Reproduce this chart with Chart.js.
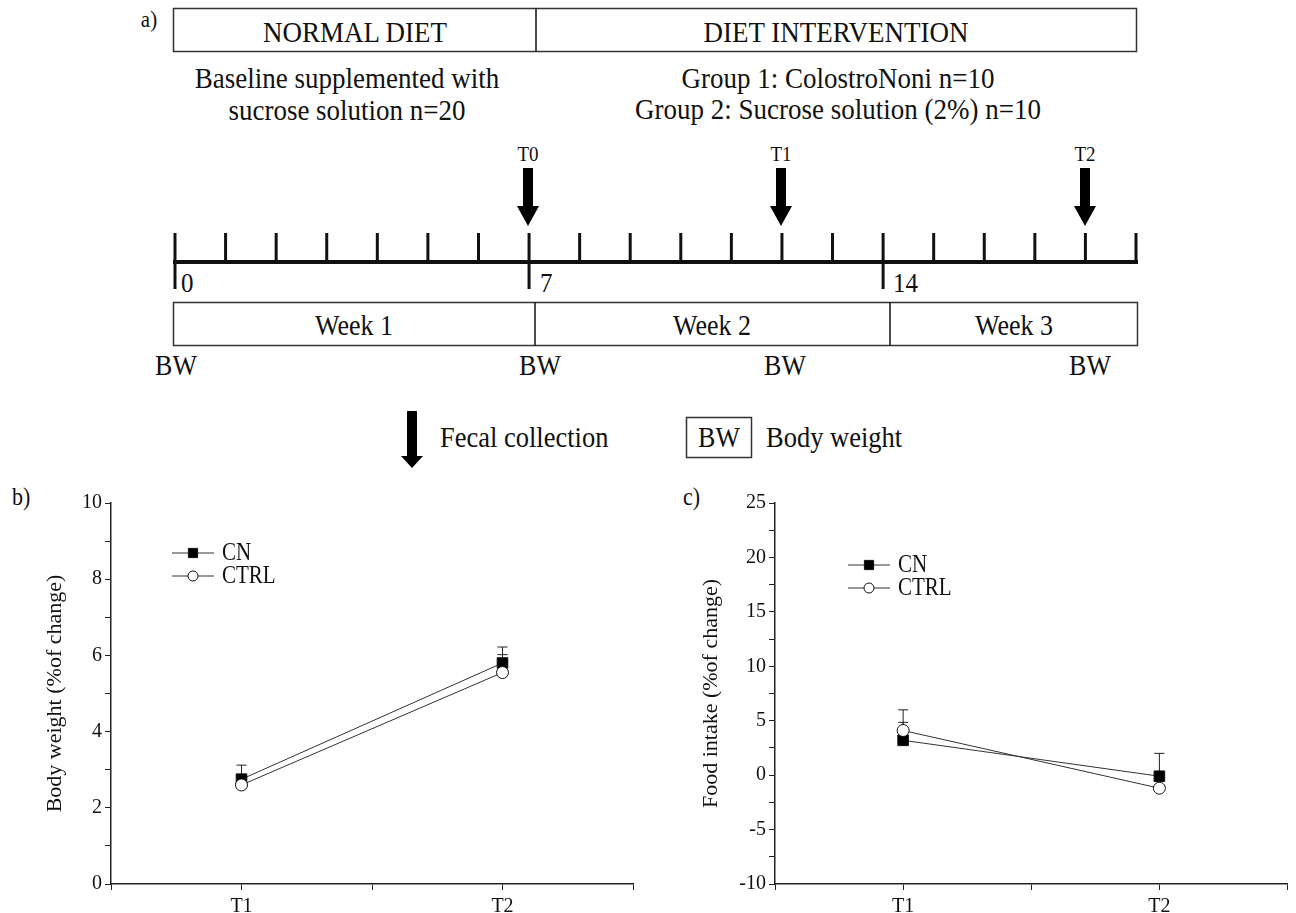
<!DOCTYPE html>
<html>
<head>
<meta charset="utf-8">
<script src="https://cdn.jsdelivr.net/npm/chart.js@4.4.0/dist/chart.umd.min.js"></script>
<style>
  html, body { margin: 0; padding: 0; background: #fff; }
  #page { position: relative; width: 1296px; height: 913px; overflow: hidden;
          font-family: 'Liberation Serif', serif; color: #111; }
  #scheme { position: absolute; left: 0; top: 0; }
  #scheme text { transform-box: fill-box; transform-origin: center; transform: scaleY(1.12); }
  .panel { position: absolute; top: 480px; height: 433px; }
  .tag { position: absolute; font-size: 22px; transform: scaleY(1.1); }
</style>
</head>
<body>
<div id="page">
  <svg id="scheme" width="1296" height="480" font-family="Liberation Serif, serif" fill="#111"></svg>
  <div class="tag" style="left:12px;top:484px">b)</div>
  <div class="tag" style="left:683px;top:484px">c)</div>
  <div class="panel" style="left:0;width:650px"><canvas id="bw" width="650" height="433"></canvas></div>
  <div class="panel" style="left:650px;width:646px"><canvas id="fi" width="646" height="433"></canvas></div>
</div>
<script>
// ---- data ----
const timeLabels = ['T1', 'T2'];
const seriesNames = ['CN', 'CTRL'];

const bodyWeightCN = [2.75, 5.8];
const bodyWeightCNErr = [0.37, 0.42];
const bodyWeightCTRL = [2.6, 5.55];
const bodyWeightCTRLErr = [0.28, 0.47];

const foodIntakeCN = [3.2, -0.1];
const foodIntakeCNErr = [1.65, 2.1];
const foodIntakeCTRL = [4.1, -1.2];
const foodIntakeCTRLErr = [1.9, 0.9];

const bodyWeightTicks = [0, 2, 4, 6, 8, 10];
const foodIntakeTicks = [-10, -5, 0, 5, 10, 15, 20, 25];

const SERIF = 'Liberation Serif';

// ---- panel a: study scheme ----
(function () {
    const svg = document.getElementById('scheme');
    let s = '';
    const txt = (x, y, size, str, anchor) =>
        `<text x="${x}" y="${y}" font-size="${size}" text-anchor="${anchor || 'middle'}" dominant-baseline="central">${str}</text>`;
    const line = (x1, y1, x2, y2, w) =>
        `<line x1="${x1}" y1="${y1}" x2="${x2}" y2="${y2}" stroke="#111" stroke-width="${w}"/>`;
    const arrow = (x, y0, y1, y2) =>
        `<rect x="${x - 5}" y="${y0}" width="10" height="${y1 - y0}" fill="#000"/>` +
        `<polygon points="${x - 11},${y1} ${x + 11},${y1} ${x},${y2}" fill="#000"/>`;

    s += txt(149, 19, 21, 'a)');
    // header box
    s += `<rect x="173.5" y="8.5" width="963" height="43" fill="none" stroke="#333" stroke-width="1.5"/>`;
    s += line(536, 8.5, 536, 51.5, 1.5);
    s += txt(355, 31, 27, 'NORMAL DIET');
    s += txt(836, 31, 27, 'DIET INTERVENTION');
    s += txt(347, 77, 27, 'Baseline supplemented with');
    s += txt(347, 109, 27, 'sucrose solution n=20');
    s += txt(838, 77, 27, 'Group 1: ColostroNoni n=10');
    s += txt(838, 109, 27, 'Group 2: Sucrose solution (2%) n=10');

    // sampling arrows
    const tp = [['T0', 528], ['T1', 781], ['T2', 1085]];
    tp.forEach(([t, x]) => {
        s += txt(x, 154, 19, t);
        s += arrow(x, 168, 206, 226);
    });

    // day axis
    const x0 = 175, dx = (1136 - 175) / 19;
    s += line(173, 262, 1138, 262, 4);
    for (let d = 0; d <= 19; d++) {
        const x = x0 + d * dx;
        const long = d % 7 === 0;
        s += line(x, 233, x, long ? 289 : 262, 3);
    }
    s += txt(181, 283, 25, '0', 'start');
    s += txt(540, 283, 25, '7', 'start');
    s += txt(893, 283, 25, '14', 'start');

    // weeks box
    s += `<rect x="173.5" y="302.5" width="964" height="43" fill="none" stroke="#333" stroke-width="1.5"/>`;
    s += line(535, 302.5, 535, 345.5, 1.5);
    s += line(890, 302.5, 890, 345.5, 1.5);
    s += txt(354, 325, 26, 'Week 1');
    s += txt(712, 325, 26, 'Week 2');
    s += txt(1014, 325, 26, 'Week 3');
    [176, 540, 785, 1090].forEach(x => { s += txt(x, 365, 26, 'BW'); });

    // key
    s += arrow(412, 411, 456, 468);
    s += txt(440, 437, 26.5, 'Fecal collection', 'start');
    s += `<rect x="686.5" y="417.5" width="65" height="40" fill="none" stroke="#333" stroke-width="1.5"/>`;
    s += txt(719, 437, 26, 'BW');
    s += txt(766, 437, 26.5, 'Body weight', 'start');

    svg.innerHTML = s;
})();

// ---- panels b and c ----
Chart.defaults.font.family = SERIF;
Chart.defaults.color = '#111';

const errorBars = {
    id: 'errorBars',
    beforeDatasetsDraw(chart) {
        const ctx = chart.ctx;
        const xs = chart.scales.x, ys = chart.scales.y;
        chart.data.datasets.forEach(ds => {
            ctx.save();
            ctx.strokeStyle = '#222';
            ctx.lineWidth = 1;
            ds.data.forEach((pt, i) => {
                const x = xs.getPixelForValue(pt.x);
                const y0 = ys.getPixelForValue(pt.y);
                const y1 = ys.getPixelForValue(pt.y + ds.errors[i]);
                ctx.beginPath();
                ctx.moveTo(x, y0);
                ctx.lineTo(x, y1);
                ctx.moveTo(x - 5, y1);
                ctx.lineTo(x + 5, y1);
                ctx.stroke();
            });
            ctx.restore();
        });
    }
};

function drawMarker(ctx, ds, x, y, r) {
    ctx.save();
    ctx.fillStyle = ds.pointBackgroundColor;
    ctx.strokeStyle = ds.pointBorderColor;
    ctx.lineWidth = ds.pointBorderWidth;
    ctx.beginPath();
    if (ds.pointStyle === 'rect') {
        const h = r * Math.SQRT1_2;
        ctx.rect(x - h, y - h, 2 * h, 2 * h);
    } else {
        ctx.arc(x, y, r, 0, Math.PI * 2);
    }
    ctx.fill();
    ctx.stroke();
    ctx.restore();
}

const lineLegend = {
    id: 'lineLegend',
    afterDraw(chart, args, o) {
        const ctx = chart.ctx;
        chart.data.datasets.forEach((ds, i) => {
            const y = o.y + i * o.gap;
            ctx.save();
            ctx.strokeStyle = ds.borderColor;
            ctx.lineWidth = 1;
            ctx.beginPath();
            ctx.moveTo(o.x, y);
            ctx.lineTo(o.x + 42, y);
            ctx.stroke();
            ctx.restore();
            drawMarker(ctx, ds, o.x + 21, y, ds.pointRadius - 1);
            ctx.save();
            ctx.fillStyle = '#111';
            ctx.font = `21px "${SERIF}"`;
            ctx.textBaseline = 'middle';
            ctx.translate(o.x + 50, y + 1);
            ctx.scale(1, 1.15);
            ctx.fillText(ds.label, 0, 0);
            ctx.restore();
        });
    }
};

function makeSeries(values, errors, idx) {
    const filled = idx === 0;
    return {
        label: seriesNames[idx],
        data: values.map((v, i) => ({ x: i + 1, y: v })),
        errors: errors,
        order: filled ? 1 : 0,
        borderColor: '#333',
        borderWidth: 1,
        pointStyle: filled ? 'rect' : 'circle',
        pointRadius: filled ? 7.5 : 6,
        pointBackgroundColor: filled ? '#000' : '#fff',
        pointBorderColor: '#111',
        pointBorderWidth: 1,
        pointHoverRadius: filled ? 7.5 : 6
    };
}

function makeChart(id, cfg) {
    return new Chart(document.getElementById(id), {
        type: 'line',
        data: { datasets: cfg.datasets },
        options: {
            responsive: false,
            animation: false,
            layout: { padding: { top: 23, right: cfg.padRight, left: 0, bottom: 0 } },
            plugins: {
                legend: { display: false },
                tooltip: { enabled: false },
                lineLegend: cfg.legend
            },
            scales: {
                x: {
                    type: 'linear',
                    min: 0.5, max: 2.5,
                    ticks: {
                        stepSize: 0.5,
                        autoSkip: false,
                        maxRotation: 0,
                        padding: 5,
                        font: { size: 20, family: SERIF },
                        color: '#111',
                        callback: v => Number.isInteger(v) && timeLabels[v - 1] ? timeLabels[v - 1] : ''
                    },
                    grid: { drawOnChartArea: false, tickLength: 6, color: '#222', tickWidth: 1 },
                    border: { color: '#222', width: 1.5 },
                    afterFit: sc => { sc.height = 29; }
                },
                y: {
                    min: cfg.min, max: cfg.max,
                    ticks: {
                        stepSize: cfg.step,
                        autoSkip: false,
                        padding: 3,
                        font: { size: 20, family: SERIF },
                        color: '#111',
                        callback: v => cfg.tickList.includes(v) ? String(v) : ''
                    },
                    grid: { drawOnChartArea: false, tickLength: 6, color: '#222', tickWidth: 1 },
                    border: { color: '#222', width: 1.5 },
                    title: {
                        display: true,
                        text: cfg.title,
                        font: { size: 22, family: SERIF },
                        color: '#111',
                        padding: { top: cfg.titlePad, bottom: 0 }
                    },
                    afterFit: sc => { sc.width = cfg.axisWidth; }
                }
            }
        },
        plugins: [errorBars, lineLegend]
    });
}

const charts = [];

charts.push(makeChart('bw', {
    datasets: [
        makeSeries(bodyWeightCN, bodyWeightCNErr, 0),
        makeSeries(bodyWeightCTRL, bodyWeightCTRLErr, 1)
    ],
    min: 0, max: 10, step: 1,
    tickList: bodyWeightTicks,
    title: 'Body weight (%of change)',
    titlePad: 42,
    axisWidth: 111,
    padRight: 17,
    legend: { x: 172, y: 73, gap: 23 }
}));

charts.push(makeChart('fi', {
    datasets: [
        makeSeries(foodIntakeCN, foodIntakeCNErr, 0),
        makeSeries(foodIntakeCTRL, foodIntakeCTRLErr, 1)
    ],
    min: -10, max: 25, step: 2.5,
    tickList: foodIntakeTicks,
    title: 'Food intake (%of change)',
    titlePad: 48,
    axisWidth: 125,
    padRight: 4,
    legend: { x: 198, y: 85, gap: 23 }
}));

// redraw once the serif face is surely available to the canvas
document.fonts.load(`20px "${SERIF}"`).then(() => charts.forEach(c => c.update()));
</script>
</body>
</html>
